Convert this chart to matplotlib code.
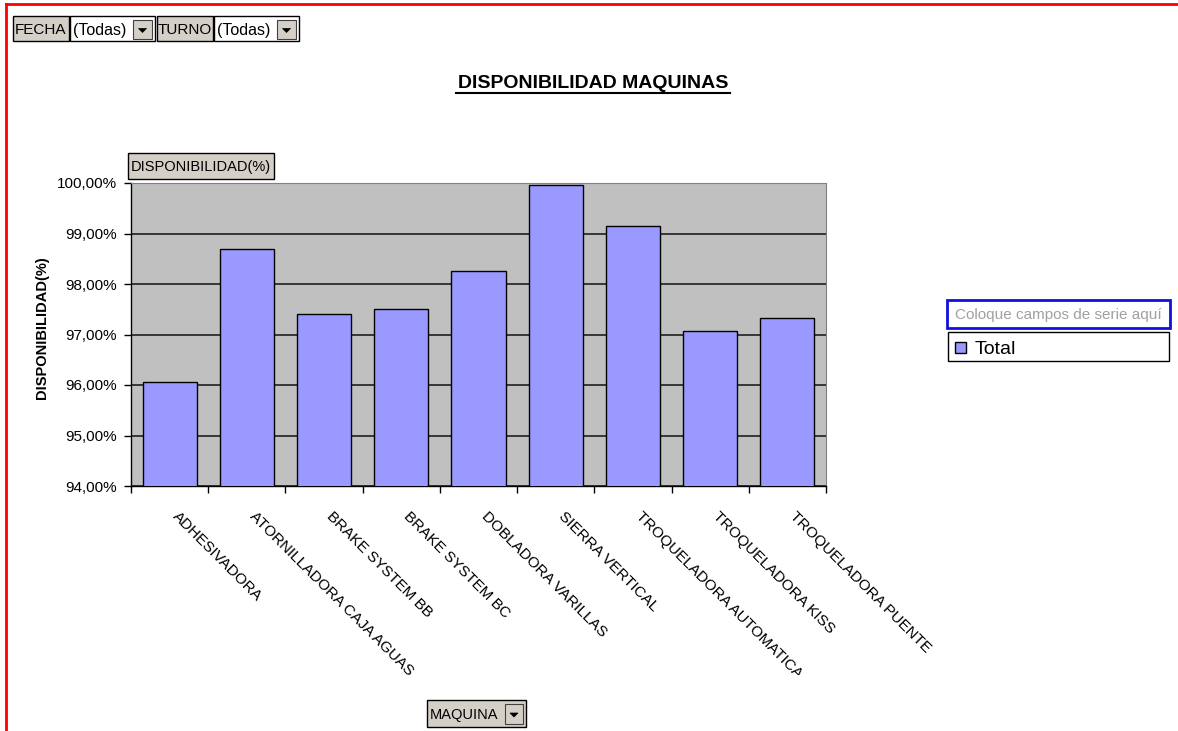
import matplotlib
matplotlib.use("Agg")
import matplotlib.pyplot as plt
from matplotlib.patches import Rectangle, Polygon
from matplotlib.lines import Line2D
from matplotlib.transforms import Bbox, TransformedBbox, ScaledTranslation
import numpy as np

categories = ["ADHESIVADORA", "ATORNILLADORA CAJA AGUAS", "BRAKE SYSTEM BB",
              "BRAKE SYSTEM BC", "DOBLADORA VARILLAS", "SIERRA VERTICAL",
              "TROQUELADORA AUTOMATICA", "TROQUELADORA KISS", "TROQUELADORA PUENTE"]
values = [96.06, 98.69, 97.41, 97.50, 98.26, 99.96, 99.15, 97.07, 97.33]
y_ticks = [94, 95, 96, 97, 98, 99, 100]
y_tick_labels = ["94,00%", "95,00%", "96,00%", "97,00%", "98,00%", "99,00%", "100,00%"]

W, H = 1178, 731
plt.rcParams['font.family'] = ['Liberation Sans', 'DejaVu Sans']
fig = plt.figure(figsize=(W / 100, H / 100), dpi=100)
fig.patch.set_facecolor("white")

def fx(x):
    return x / W

def fy(y):
    return 1 - y / H

def rect(x0, y0, x1, y1, fc, ec="black", lw=1.0, z=5):
    r = Rectangle((fx(x0), fy(y1)), fx(x1) - fx(x0), fy(y0) - fy(y1),
                  transform=fig.transFigure, facecolor=fc, edgecolor=ec, linewidth=lw, zorder=z)
    fig.add_artist(r)

def arrow_btn(x0, y0, x1, y1):
    rect(x0, y0, x1, y1, "#D4D0C8", ec="#404040", lw=0.8, z=6)
    cx, cy = (x0 + x1) / 2, (y0 + y1) / 2 + 1
    tri = Polygon([(fx(cx - 4), fy(cy - 2)), (fx(cx + 4), fy(cy - 2)), (fx(cx), fy(cy + 2))],
                  closed=True, transform=fig.transFigure, facecolor="black", edgecolor="black",
                  linewidth=0.5, zorder=7)
    fig.add_artist(tri)

def button(x0, y0, x1, y1, label, fs=10):
    rect(x0, y0, x1, y1, "#D4D0C8", ec="black", lw=1.0)
    fig.text(fx((x0 + x1) / 2), fy((y0 + y1) / 2 + 1.5), label, ha="center", va="center",
             fontsize=fs, zorder=8)

# red frame
fig.add_artist(Line2D([fx(6), fx(W)], [fy(4), fy(4)], transform=fig.transFigure, color="red", lw=2))
fig.add_artist(Line2D([fx(6), fx(6)], [fy(4), 0], transform=fig.transFigure, color="red", lw=2))

ax = fig.add_axes([fx(131), fy(486), fx(826) - fx(131), fy(183) - fy(486)])
ax.set_facecolor("#C0C0C0")
x = np.arange(len(categories))
ax.bar(x, values, width=0.7, color="#9999FF", edgecolor="black", linewidth=1.0, zorder=3)
ax.set_ylim(94, 100)
ax.set_xlim(-0.5, len(categories) - 0.5)
ax.set_yticks(y_ticks)
ax.set_yticklabels(y_tick_labels, fontsize=11)
ax.yaxis.grid(True, color="#202020", linewidth=1.2, zorder=1)
ax.set_axisbelow(True)
ax.tick_params(axis="y", direction="out", length=5, width=1, pad=5)

ax.set_xticks(x)
ax.set_xticklabels(categories, fontsize=11, rotation=-45, ha="left", va="top",
                   rotation_mode="anchor")
ax.tick_params(axis="x", which="major", length=0, pad=20)
ax.set_xticks(np.arange(len(categories) + 1) - 0.5, minor=True)
ax.tick_params(axis="x", which="minor", direction="out", length=5, width=1)

for s in ["top", "right"]:
    ax.spines[s].set_color("#808080")
for s in ["left", "bottom"]:
    ax.spines[s].set_color("black")
    ax.spines[s].set_linewidth(1.0)

clip = TransformedBbox(Bbox.from_extents(0, fy(675), fx(945), 1), fig.transFigure)
offset = ScaledTranslation(10 / 100, 5 / 100, fig.dpi_scale_trans)
for lab in ax.get_xticklabels():
    lab.set_transform(lab.get_transform() + offset)
    lab.set_clip_box(clip)
    lab.set_clip_on(True)

ax.set_ylabel("DISPONIBILIDAD(%)", fontsize=10.5, fontweight="bold")
ax.yaxis.set_label_coords((49 - 131) / 695, (486 - 328) / 303)

# title with underline
fig.text(fx(593), fy(84), "DISPONIBILIDAD MAQUINAS", ha="center", va="center",
         fontsize=14, fontweight="bold")
fig.add_artist(Line2D([fx(456), fx(730)], [fy(93), fy(93)], transform=fig.transFigure,
                      color="black", lw=1.5))

# page field buttons
button(13, 16, 69, 41, "FECHA", fs=11)
rect(70, 16, 155, 41, "white", ec="black", lw=1.0)
fig.text(fx(73), fy(30), "(Todas)", ha="left", va="center", fontsize=11.5, zorder=8)
arrow_btn(133, 20, 152, 39)
button(157, 16, 213, 41, "TURNO", fs=11)
rect(214, 16, 299, 41, "white", ec="black", lw=1.0)
fig.text(fx(217), fy(30), "(Todas)", ha="left", va="center", fontsize=11.5, zorder=8)
arrow_btn(277, 20, 296, 39)

# data field button
button(128, 153, 274, 179, "DISPONIBILIDAD(%)", fs=10.5)

# category field button
rect(427, 700, 526, 727, "#D4D0C8", ec="black", lw=1.0)
fig.text(fx(430), fy(715), "MAQUINA", ha="left", va="center", fontsize=10.5, zorder=8)
arrow_btn(505, 704, 523, 724)

# legend area
rect(947, 300, 1170, 328, "white", ec="#1010E0", lw=2.0)
fig.text(fx(955), fy(315), "Coloque campos de serie aquí", ha="left", va="center",
         fontsize=11, color="#A0A0A0", zorder=8)
rect(948, 332, 1169, 361, "white", ec="black", lw=1.0)
rect(955, 342, 966, 353, "#9999FF", ec="black", lw=1.0, z=7)
fig.text(fx(975), fy(349), "Total", ha="left", va="center", fontsize=14, zorder=8)

fig.savefig("out.png", dpi=100, facecolor="white")
